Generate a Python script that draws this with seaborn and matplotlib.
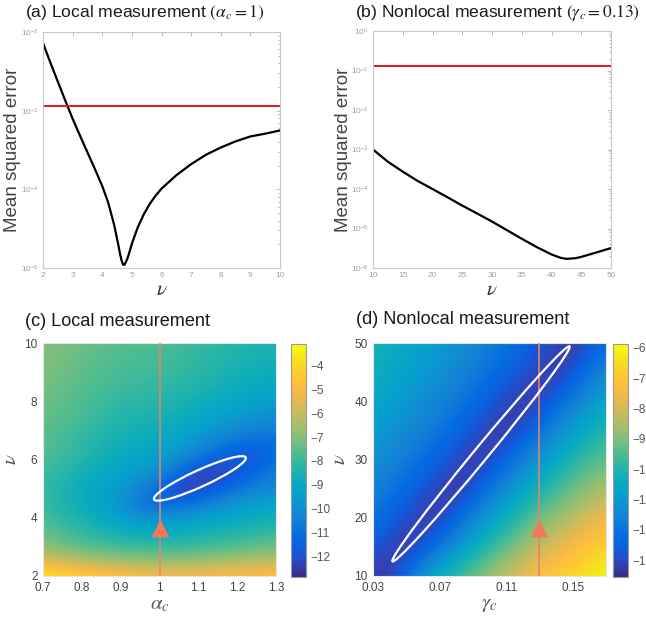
import numpy as np
import matplotlib
matplotlib.use("Agg")
import matplotlib.pyplot as plt
import seaborn as sns
from matplotlib.colors import LinearSegmentedColormap
from matplotlib.patches import Circle
from matplotlib.transforms import Affine2D

# ---------------- data ----------------
# (a) local measurement, alpha_c = 1 : MSE versus nu
nu_a = [2.0, 2.25, 2.5, 2.75, 3.0, 3.25, 3.5, 3.75, 4.0, 4.2, 4.4, 4.55, 4.6,
        4.65, 4.7, 4.75, 4.8, 4.85, 4.9, 5.0, 5.2, 5.4, 5.6, 5.8, 6.0, 6.5,
        7.0, 7.5, 8.0, 8.5, 9.0, 9.5, 10.0]
mse_a = [7.24e-3, 4.07e-3, 2.34e-3, 1.35e-3, 7.9e-4, 4.8e-4, 2.95e-4, 1.82e-4,
         1.10e-4, 6.8e-5, 3.55e-5, 1.91e-5, 1.51e-5, 1.26e-5, 1.10e-5, 1.10e-5,
         1.20e-5, 1.32e-5, 1.51e-5, 2.04e-5, 3.3e-5, 4.8e-5, 6.5e-5, 8.3e-5,
         1.02e-4, 1.51e-4, 2.09e-4, 2.75e-4, 3.4e-4, 4.07e-4, 4.7e-4, 5.1e-4,
         5.6e-4]
mse_a_ref = 1.14e-3

# (b) nonlocal measurement, gamma_c = 0.13 : MSE versus nu
nu_b = [10, 12.5, 15, 17.5, 20, 22.5, 25, 27.5, 30, 32.5, 35, 37.5, 40, 41.5,
        42.5, 44, 45, 47.5, 50]
mse_b = [1.0e-3, 4.9e-4, 2.75e-4, 1.6e-4, 1.0e-4, 6.2e-5, 3.8e-5, 2.4e-5,
         1.5e-5, 9.1e-6, 5.5e-6, 3.4e-6, 2.2e-6, 1.82e-6, 1.70e-6, 1.77e-6,
         1.91e-6, 2.46e-6, 3.2e-6]
mse_b_ref = 0.13

# (c) ln(MSE) over (alpha_c, nu); rows follow nu_c, columns follow alpha_c
alpha_c = [0.70, 0.75, 0.80, 0.85, 0.90, 0.95, 1.00, 1.05, 1.10, 1.15, 1.20, 1.25, 1.30]
nu_c = [2.0, 2.5, 3.0, 3.5, 4.0, 4.5, 5.0, 5.5, 6.0, 6.5, 7.0, 7.5, 8.0, 8.5,
        9.0, 9.5, 10.0]
ln_mse_c = [
    [-3.3, -3.8, -4.2, -4.5, -4.7, -4.8, -4.9, -4.9, -4.9, -4.85, -4.8, -4.75, -4.7],
    [-5.6, -5.9, -6.2, -6.4, -6.6, -6.7, -6.8, -6.8, -6.7, -6.55, -6.4, -6.25, -6.1],
    [-6.9, -7.2, -7.5, -7.7, -7.9, -8.0, -8.0, -8.0, -7.9, -7.75, -7.6, -7.45, -7.3],
    [-7.4, -7.75, -8.1, -8.4, -8.6, -8.8, -8.9, -8.8, -8.6, -8.45, -8.3, -8.15, -8.0],
    [-7.8, -8.15, -8.5, -8.9, -9.4, -9.9, -9.8, -9.6, -9.4, -9.2, -9.0, -8.8, -8.6],
    [-8.0, -8.4, -8.8, -9.3, -9.9, -10.7, -11.3, -11.2, -10.7, -10.2, -9.7, -9.4, -9.2],
    [-8.0, -8.4, -8.8, -9.2, -9.7, -10.3, -11.2, -12.5, -12.2, -11.5, -10.9, -10.4, -10.0],
    [-7.9, -8.25, -8.6, -8.95, -9.3, -9.7, -10.2, -11.2, -12.4, -12.4, -11.8, -11.1, -10.5],
    [-7.7, -8.0, -8.3, -8.65, -9.0, -9.2, -9.5, -10.1, -10.9, -11.7, -12.0, -11.7, -11.0],
    [-7.6, -7.85, -8.1, -8.4, -8.7, -8.9, -9.1, -9.5, -10.0, -10.6, -11.1, -11.4, -11.1],
    [-7.5, -7.75, -8.0, -8.25, -8.5, -8.65, -8.75, -9.0, -9.35, -9.8, -10.2, -10.4, -10.5],
    [-7.4, -7.6, -7.8, -8.05, -8.3, -8.4, -8.5, -8.7, -8.95, -9.3, -9.6, -9.8, -10.0],
    [-7.3, -7.5, -7.7, -7.9, -8.1, -8.2, -8.25, -8.45, -8.65, -8.9, -9.1, -9.3, -9.5],
    [-7.2, -7.4, -7.6, -7.75, -7.9, -8.0, -8.05, -8.25, -8.4, -8.6, -8.8, -8.95, -9.1],
    [-7.1, -7.3, -7.5, -7.65, -7.8, -7.85, -7.9, -8.05, -8.2, -8.4, -8.6, -8.7, -8.8],
    [-7.05, -7.2, -7.4, -7.55, -7.7, -7.75, -7.8, -7.95, -8.1, -8.25, -8.4, -8.5, -8.6],
    [-7.0, -7.15, -7.3, -7.45, -7.6, -7.65, -7.7, -7.85, -8.0, -8.15, -8.3, -8.4, -8.5],
]
alpha_true = 1.0
nu_start_c = 3.65
ellipse_c = {"center": (1.104, 5.35), "major": (0.118, 0.72), "minor": (0.0089, -0.259)}
cbar_ticks_c = [-12, -11, -10, -9, -8, -7, -6, -5, -4]
cbar_range_c = (-12.84, -3.12)

# (d) ln(MSE) over (gamma_c, nu); rows follow nu_d, columns follow gamma_c
gamma_c = [0.03, 0.04, 0.05, 0.06, 0.07, 0.08, 0.09, 0.10, 0.11, 0.12, 0.13,
           0.14, 0.15, 0.16, 0.17]
nu_d = [10, 15, 20, 25, 30, 35, 40, 45, 50]
ln_mse_d = [
    [-13.3, -13.3, -12.0, -11.0, -10.2, -9.6, -9.1, -8.6, -8.1, -7.6, -7.1, -6.8, -6.5, -6.2, -5.95],
    [-12.7, -13.15, -13.45, -12.8, -12.0, -11.2, -10.5, -9.9, -9.3, -8.8, -8.2, -7.8, -7.4, -7.0, -6.7],
    [-12.0, -12.4, -12.9, -13.35, -13.2, -12.4, -11.6, -10.9, -10.3, -9.7, -9.2, -8.75, -8.3, -7.9, -7.55],
    [-11.6, -11.9, -12.3, -12.7, -13.2, -13.45, -12.8, -12.0, -11.3, -10.7, -10.2, -9.7, -9.25, -8.85, -8.5],
    [-11.2, -11.5, -11.8, -12.1, -12.5, -12.95, -13.4, -13.1, -12.3, -11.7, -11.1, -10.5, -10.0, -9.6, -9.3],
    [-10.9, -11.1, -11.35, -11.65, -11.95, -12.3, -12.75, -13.25, -13.4, -12.8, -12.1, -11.4, -10.85, -10.35, -9.95],
    [-10.6, -10.8, -11.05, -11.3, -11.55, -11.85, -12.2, -12.6, -13.0, -13.4, -13.1, -12.4, -11.75, -11.2, -10.7],
    [-10.35, -10.55, -10.75, -10.95, -11.2, -11.45, -11.75, -12.05, -12.4, -12.8, -13.15, -13.35, -12.7, -12.0, -11.4],
    [-10.1, -10.3, -10.5, -10.7, -10.9, -11.15, -11.4, -11.7, -12.0, -12.3, -12.66, -13.05, -13.45, -12.9, -12.3],
]
gamma_true = 0.13
nu_start_d = 18.2
ellipse_d = {"center": (0.0949, 30.97), "major": (0.0532, 18.46), "minor": (0.00326, -0.76)}
cbar_ticks_d = [-13, -12, -11, -10, -9, -8, -7, -6]
cbar_range_d = (-13.55, -5.87)

# ---------------- style ----------------
sns.set_style("white")
plt.rcParams["font.family"] = ["Liberation Sans", "DejaVu Sans"]
plt.rcParams["mathtext.fontset"] = "stix"

parula = LinearSegmentedColormap.from_list("parula", [
    (0.2081, 0.1663, 0.5292), (0.1959, 0.2645, 0.7279), (0.0591, 0.3598, 0.8683),
    (0.0165, 0.4266, 0.8786), (0.0723, 0.4887, 0.8467), (0.0641, 0.5570, 0.8240),
    (0.0239, 0.6287, 0.8038), (0.0384, 0.6743, 0.7436), (0.1453, 0.7098, 0.6646),
    (0.3022, 0.7376, 0.5712), (0.4871, 0.7491, 0.4840), (0.6473, 0.7456, 0.4188),
    (0.7858, 0.7356, 0.3633), (0.9139, 0.7258, 0.3063), (0.9938, 0.7455, 0.2403),
    (0.9880, 0.8066, 0.1794), (0.9589, 0.8949, 0.1132), (0.9763, 0.9831, 0.0538)])

W, H = 646, 623
fig = plt.figure(figsize=(W / 100, H / 100), dpi=100)


def box(left, top, right, bottom):
    return [left / W, 1 - bottom / H, (right - left) / W, (bottom - top) / H]


def title(x, y, text, size):
    fig.text(x / W, 1 - y / H, text, fontsize=size, color="#1a1a1a",
             ha="left", va="center")


def line_panel(ax, x, y, ref, xlim, ylim, xticks, ylabel_x):
    sns.lineplot(x=x, y=y, ax=ax, color="black", lw=1.6)
    ax.axhline(ref, color="#e3151c", lw=1.4)
    ax.set_yscale("log")
    ax.set_xlim(xlim)
    ax.set_ylim(ylim)
    ax.set_xticks(xticks)
    ax.tick_params(which="both", direction="in", top=True, right=True,
                   colors="#a0a0a0", labelsize=6, width=0.5, pad=3)
    ax.tick_params(which="major", length=3)
    ax.tick_params(which="minor", length=1.5)
    for s in ax.spines.values():
        s.set_color("#c8c8c8")
        s.set_linewidth(0.8)
    ax.set_xlabel(r"$\nu$", fontsize=15, color="#333333")
    ax.xaxis.set_label_coords(0.5, -0.052)
    ax.set_ylabel("Mean squared error", fontsize=13.5, color="#444444")
    ax.yaxis.set_label_coords(ylabel_x, 0.5)


def add_ellipse(ax, spec):
    (cx, cy), (mx, my), (nx, ny) = spec["center"], spec["major"], spec["minor"]
    warp = Affine2D(np.array([[mx, nx, cx], [my, ny, cy], [0, 0, 1]]))
    ax.add_patch(Circle((0, 0), 1, fill=False, ec="white", lw=1.6,
                        transform=warp + ax.transData, zorder=4))


def map_panel(ax, cax, xs, ys, zs, crange, cticks, xtrue, ystart, ell,
              xticks, xticklabels, yticks, xlabel, ylabel_x):
    xs, ys = np.asarray(xs), np.asarray(ys)
    dx, dy = xs[1] - xs[0], ys[1] - ys[0]
    im = ax.imshow(np.asarray(zs), origin="lower", aspect="auto", cmap=parula,
                   vmin=crange[0], vmax=crange[1], interpolation="bicubic",
                   extent=[xs[0] - dx / 2, xs[-1] + dx / 2, ys[0] - dy / 2, ys[-1] + dy / 2])
    ax.set_xlim(xs[0], xs[-1])
    ax.set_ylim(ys[0], ys[-1])
    ax.axvline(xtrue, color="#e8826c", lw=1.3, alpha=0.9, zorder=3)
    ax.plot([xtrue], [ystart], marker="^", ms=13, color="#ef7b5d", mec="none", zorder=5)
    add_ellipse(ax, ell)
    ax.set_xticks(xticks)
    ax.set_xticklabels(xticklabels)
    ax.set_yticks(yticks)
    ax.tick_params(length=0, labelsize=8.5, labelcolor="#444444", pad=4)
    for s in ax.spines.values():
        s.set_color("#e6e6e6")
        s.set_linewidth(0.8)
    ax.set_xlabel(xlabel, fontsize=15, color="#555555")
    ax.xaxis.set_label_coords(0.5, -0.08)
    ax.set_ylabel(r"$\nu$", fontsize=15, color="#555555")
    ax.yaxis.set_label_coords(ylabel_x, 0.5)

    cb = fig.colorbar(im, cax=cax, ticks=cticks)
    cb.outline.set_edgecolor("#9a9a9a")
    cb.outline.set_linewidth(0.8)
    cax.tick_params(direction="in", length=2.5, width=0.6, color="#888888",
                    labelsize=8.5, labelcolor="#555555", pad=3)


# (a)
ax_a = fig.add_axes(box(43, 32, 280, 268))
line_panel(ax_a, nu_a, mse_a, mse_a_ref, (2, 10), (1e-5, 1e-2), range(2, 11), -0.092)
title(25, 13, r"(a) Local measurement $(\alpha_c{=}1)$", 12.6)

# (b)
ax_b = fig.add_axes(box(373, 31, 611, 268))
line_panel(ax_b, nu_b, mse_b, mse_b_ref, (10, 50), (1e-6, 1e0), range(10, 51, 5), -0.088)
title(355, 13, r"(b) Nonlocal measurement $(\gamma_c{=}0.13)$", 12.6)

# (c)
ax_c = fig.add_axes(box(43, 343, 276, 576))
cax_c = fig.add_axes(box(291, 344, 306, 577))
map_panel(ax_c, cax_c, alpha_c, nu_c, ln_mse_c, cbar_range_c, cbar_ticks_c,
          alpha_true, nu_start_c, ellipse_c,
          [0.7, 0.8, 0.9, 1.0, 1.1, 1.2, 1.3], ["0.7", "0.8", "0.9", "1", "1.1", "1.2", "1.3"],
          [2, 4, 6, 8, 10], r"$\alpha_c$", -0.1)
title(25, 321, "(c) Local measurement", 13.1)

# (d)
ax_d = fig.add_axes(box(373, 343, 606, 576))
cax_d = fig.add_axes(box(613, 344, 628, 577))
map_panel(ax_d, cax_d, gamma_c, nu_d, ln_mse_d, cbar_range_d, cbar_ticks_d,
          gamma_true, nu_start_d, ellipse_d,
          [0.03, 0.07, 0.11, 0.15], ["0.03", "0.07", "0.11", "0.15"],
          [10, 20, 30, 40, 50], r"$\gamma_c$", -0.103)
title(356, 320, "(d) Nonlocal measurement", 13.1)

fig.savefig("out.png", dpi=100)
